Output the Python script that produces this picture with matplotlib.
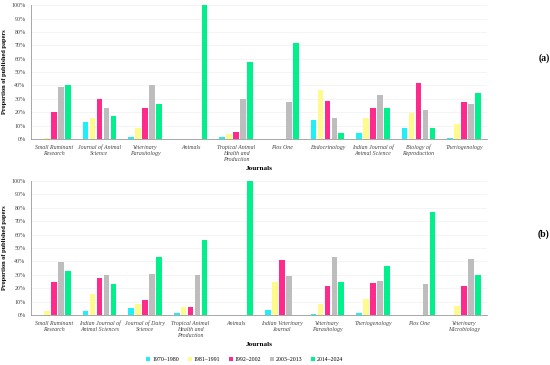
import matplotlib
matplotlib.use("Agg")
import matplotlib.pyplot as plt
import numpy as np

periods = ["1970–1980", "1981–1991", "1992–2002", "2003–2013", "2014–2024"]
colors = ["#1ef0f5", "#fffa8c", "#ff2a8c", "#bdbdbd", "#00f08c"]

# panel (a)
journals_a = ["Small Ruminant\nResearch", "Journal of Animal\nScience", "Veterinary\nParasitology",
              "Animals", "Tropical Animal\nHealth and\nProduction", "Plos One", "Endocrinology",
              "Indian Journal of\nAnimal Science", "Biology of\nReproduction", "Theriogenology"]
a_1970 = [0, 12.5, 1.5, 0, 1.5, 0, 14, 4.7, 8.5, 1]
a_1981 = [1, 15.5, 8, 0, 4, 0, 37, 16, 19.6, 11]
a_1992 = [20, 30, 23.5, 0, 5.5, 0, 28.5, 23.4, 41.8, 28]
a_2003 = [38.5, 23, 40, 0, 30, 27.8, 16, 32.6, 22, 26]
a_2014 = [40, 17.5, 26, 100, 57.5, 72, 4.5, 23.4, 8.5, 34.3]

# panel (b)
journals_b = ["Small Ruminant\nResearch", "Indian Journal of\nAnimal Sciences", "Journal of Dairy\nScience",
              "Tropical Animal\nHealth and\nProduction", "Animals", "Indian Veterinary\nJournal",
              "Veterinary\nParasitology", "Theriogenology", "Plos One", "Veterinary\nMicrobiology"]
b_1970 = [0, 3.2, 5.5, 1.7, 0, 4, 1, 1.5, 0, 0]
b_1981 = [3, 15.7, 8.5, 6.2, 0, 24.4, 8.2, 11.7, 0, 6.5]
b_1992 = [24.4, 27.6, 11.2, 6, 0, 41.3, 22, 23.9, 0, 21.4]
b_2003 = [39.3, 29.9, 30.8, 29.9, 0, 29.4, 43, 25.6, 22.9, 41.5]
b_2014 = [32.8, 22.9, 43.5, 55.7, 100, 0, 24.6, 36.6, 76.9, 29.9]

serif = "Liberation Serif"

fig = plt.figure(figsize=(5.5, 3.65), dpi=100)
ax1 = fig.add_axes([0.0564, 0.619, 0.829, 0.367])
ax2 = fig.add_axes([0.0564, 0.137, 0.829, 0.367])


def panel(ax, names, series, tag):
    x = np.arange(len(names))
    step = 0.153
    for i, vals in enumerate(series):
        ax.bar(x + (i - 2) * step, vals, width=0.125, color=colors[i], label=periods[i], zorder=3)
    ax.set_xlim(-0.5, 9.5)
    ax.set_ylim(0, 100)
    ax.set_yticks(np.arange(0, 101, 10))
    ax.set_yticklabels([f"{v}%" for v in range(0, 101, 10)], fontsize=4.3, family=serif, color="#444444")
    ax.set_xticks(x)
    ax.set_xticklabels(names, fontsize=4.2, family=serif, style="italic", color="#444444", linespacing=1.25)
    ax.tick_params(length=0, pad=4)
    ax.grid(axis="y", color="#f0f0f0", linewidth=0.5, zorder=0)
    for s in ["top", "right"]:
        ax.spines[s].set_visible(False)
    ax.spines["left"].set_color("#999999")
    ax.spines["bottom"].set_color("#999999")
    ax.spines["left"].set_linewidth(0.6)
    ax.spines["bottom"].set_linewidth(0.6)
    ax.set_ylabel("Proportion of published papers", fontsize=4.6, family=serif, weight="bold", labelpad=3)
    ax.set_xlabel("Journals", fontsize=5.2, family=serif, weight="bold")
    ax.xaxis.set_label_coords(0.5, -0.2)
    ax.text(1.125, 0.6, tag, transform=ax.transAxes, fontsize=7, family=serif, weight="bold",
            ha="center", va="center")


panel(ax1, journals_a, [a_1970, a_1981, a_1992, a_2003, a_2014], "(a)")
panel(ax2, journals_b, [b_1970, b_1981, b_1992, b_2003, b_2014], "(b)")

handles, labels = ax2.get_legend_handles_labels()
fig.legend(handles, labels, loc="center", bbox_to_anchor=(0.445, 0.014), ncol=5, frameon=False,
           prop={"family": serif, "size": 4.2}, handlelength=0.7, handleheight=0.7,
           handletextpad=0.3, columnspacing=1.5)

fig.savefig("out.png", dpi=100)
